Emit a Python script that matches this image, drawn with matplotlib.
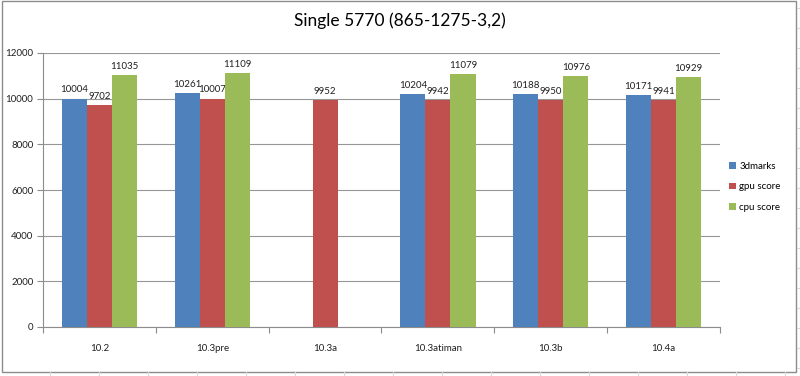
import matplotlib
matplotlib.use("Agg")
import matplotlib.pyplot as plt
from matplotlib.patches import Rectangle
import numpy as np

categories = ["10.2", "10.3pre", "10.3a", "10.3atiman", "10.3b", "10.4a"]
series_names = ["3dmarks", "gpu score", "cpu score"]
marks_3d = [10004, 10261, None, 10204, 10188, 10171]
gpu_score = [9702, 10007, 9952, 9942, 9950, 9941]
cpu_score = [11035, 11109, None, 11079, 10976, 10929]
colors = ["#4F81BD", "#C0504D", "#9BBB59"]
yticks = [0, 2000, 4000, 6000, 8000, 10000, 12000]
title = "Single 5770 (865-1275-3,2)"

plt.rcParams['font.family'] = ['Lato', 'DejaVu Sans']

fig = plt.figure(figsize=(8, 3.76), dpi=100)
W, H = 800, 376

# spreadsheet background lines (outside the chart)
bg = fig.add_axes([0, 0, 1, 1])
bg.set_xlim(0, W); bg.set_ylim(H, 0); bg.axis('off')
for xx in np.arange(50, 800, 49):
    bg.plot([xx, xx], [372, 376], color="#d9d9d9", lw=0.8)
for yy in np.arange(8, 376, 20):
    bg.plot([797, 800], [yy, yy], color="#d9d9d9", lw=0.8)
bg.add_patch(Rectangle((2, 1), 794, 371, facecolor="white", edgecolor="#8c8c8c", lw=1.0))

ax = fig.add_axes([43/W, 1-327/H, (720-43)/W, (327-53)/H])
n = len(categories)
x = np.arange(n)
bw = 1/4.5
series = [marks_3d, gpu_score, cpu_score]
for i, (vals, col, name) in enumerate(zip(series, colors, series_names)):
    for j, v in enumerate(vals):
        if v is None:
            continue
        xc = x[j] + (i-1)*bw
        ax.bar(xc, v, width=bw, color=col, zorder=3)
        ax.annotate(str(v), (xc, v), xytext=(0, 3), textcoords="offset points",
                    ha="center", va="bottom", fontsize=7, color="#202020")

ax.set_xlim(-0.5, n-0.5)
ax.set_ylim(0, 12000)
ax.set_yticks(yticks)
ax.set_yticklabels([str(t) for t in yticks], fontsize=7, color="#202020")
ax.yaxis.grid(True, color="#969696", lw=0.8, zorder=0)
ax.set_xticks(x)
ax.set_xticklabels(categories, fontsize=7, color="#202020")
ax.set_xticks(np.arange(-0.5, n), minor=True)
ax.tick_params(axis='x', which='major', length=0, pad=12)
ax.tick_params(axis='x', which='minor', length=4, color="#8c8c8c", width=0.8)
ax.tick_params(axis='y', length=4, color="#8c8c8c", width=0.8, pad=3)
for s in ["top", "right"]:
    ax.spines[s].set_visible(False)
for s in ["left", "bottom"]:
    ax.spines[s].set_color("#8c8c8c")
    ax.spines[s].set_linewidth(0.8)

fig.text(0.5, 1-21/H, title, ha="center", va="center", fontsize=12.5, color="#000000")

handles = [Rectangle((0, 0), 1, 1, facecolor=c) for c in colors]
fig.legend(handles, series_names, loc="center left", bbox_to_anchor=(720/W, 1-187/H),
           frameon=False, fontsize=7, handlelength=0.7, handleheight=0.7,
           handletextpad=0.4, labelspacing=1.2)

fig.savefig("out.png", dpi=100)
